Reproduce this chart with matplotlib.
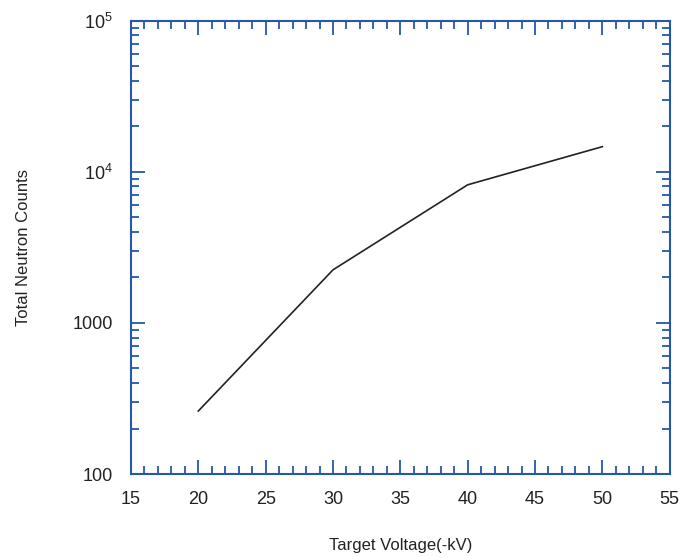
import numpy as np
import matplotlib
matplotlib.use("Agg")
import matplotlib.pyplot as plt
from matplotlib.ticker import FixedLocator, MultipleLocator, LogLocator, NullFormatter

plt.rcParams['font.family'] = ['Liberation Sans', 'DejaVu Sans']
plt.rcParams['mathtext.fontset'] = 'custom'
plt.rcParams['mathtext.rm'] = 'Liberation Sans'
plt.rcParams['mathtext.it'] = 'Liberation Sans'

# data
voltage = [20, 30, 40, 50]
counts = [261, 2244, 8200, 14660]

ytick_vals = [100, 1000, 1e4, 1e5]
ytick_labels = ["100", "1000", r"$10^4$", r"$10^5$"]
xtick_vals = [15, 20, 25, 30, 35, 40, 45, 50, 55]

frame_col = "#2558a8"

fig = plt.figure(figsize=(6.82, 5.58), dpi=100)
ax = fig.add_axes([0.192, 0.1505, 0.790, 0.8125])

ax.plot(voltage, counts, color="#222222", lw=1.2)

ax.set_yscale("log")
ax.set_xlim(15, 55)
ax.set_ylim(100, 1e5)

ax.xaxis.set_major_locator(FixedLocator(xtick_vals))
ax.xaxis.set_minor_locator(MultipleLocator(1))
ax.set_xticklabels([str(v) for v in xtick_vals])
ax.yaxis.set_major_locator(FixedLocator(ytick_vals))
ax.set_yticklabels(ytick_labels)
ax.yaxis.set_minor_locator(LogLocator(base=10, subs=np.arange(2, 10)))
ax.yaxis.set_minor_formatter(NullFormatter())

for s in ax.spines.values():
    s.set_color(frame_col)
    s.set_linewidth(1.5)

ax.tick_params(which="both", direction="in", top=True, right=True,
               color=frame_col, width=1.3, labelsize=13, labelcolor="#222222")
ax.tick_params(which="major", length=10)
ax.tick_params(which="minor", length=6)
ax.tick_params(axis="x", which="major", pad=12)
ax.tick_params(axis="y", which="major", pad=13)

ax.set_xlabel("Target Voltage(-kV)", fontsize=12, color="#222222", labelpad=22)
ax.set_ylabel("Total Neutron Counts", fontsize=12, color="#222222", labelpad=30)

fig.savefig("out.png", dpi=100)
